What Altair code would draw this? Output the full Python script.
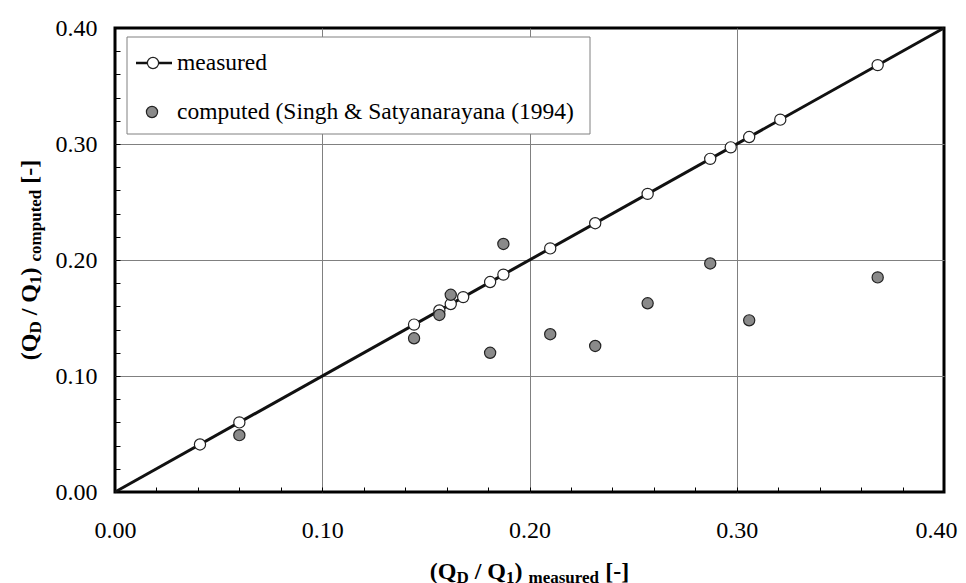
import altair as alt
import pandas as pd

# ---------------- data ----------------
measured_x = [0.041, 0.060, 0.1443, 0.1565, 0.162, 0.168, 0.181, 0.1874,
              0.210, 0.2317, 0.257, 0.2872, 0.2971, 0.306, 0.321, 0.368]
measured_y = [0.041, 0.060, 0.1443, 0.1565, 0.162, 0.168, 0.181, 0.1874,
              0.210, 0.2317, 0.257, 0.2872, 0.2971, 0.306, 0.321, 0.368]
computed_x = [0.060, 0.1443, 0.1565, 0.162, 0.181, 0.1874, 0.210, 0.2317,
              0.257, 0.2872, 0.306, 0.368]
computed_y = [0.049, 0.1325, 0.1526, 0.170, 0.120, 0.2138, 0.136, 0.1259,
              0.1627, 0.197, 0.148, 0.185]
diag_x = [0.0, 0.4]
diag_y = [0.0, 0.4]
major_ticks = [0.0, 0.1, 0.2, 0.3, 0.4]
minor_ticks = [0.0, 0.02, 0.04, 0.06, 0.08, 0.1, 0.12, 0.14, 0.16, 0.18, 0.2,
               0.22, 0.24, 0.26, 0.28, 0.3, 0.32, 0.34, 0.36, 0.38, 0.4]
legend_labels = ["measured", "computed (Singh & Satyanarayana (1994)"]
x_title_parts = ["(Q", "D", "/", "Q", "1", ")", "measured", "[-]"]
y_title_parts = ["(Q", "D", "/", "Q", "1", ")", "computed", "[-]"]

# ---------------- layout / style ----------------
W, H = 829, 464
FONT = "Liberation Serif, Times New Roman, Tinos, DejaVu Serif, serif"
MAIN, SUB = 24, 17
GRID = "#808080"
FILL_GRAY = "#8a8a8a"

BOLD_W = {"(": 333, ")": 333, "Q": 778, "D": 722, "/": 278, "1": 500, "[": 333,
          "-": 333, "]": 333, "m": 833, "e": 444, "a": 500, "s": 389, "u": 556,
          "r": 444, "d": 556, "c": 444, "o": 500, "p": 556, "t": 333}
# (is subscript, space before in px)
part_style = [(False, 0), (True, 0), (False, 6), (False, 6), (True, 0),
              (False, 0), (True, 6), (False, 6)]


def layout(parts):
    offs, cur = [], 0.0
    for txt, (sub, pre) in zip(parts, part_style):
        cur += pre
        offs.append(cur)
        size = SUB if sub else MAIN
        cur += sum(BOLD_W[c] for c in txt) / 1000 * size
    return offs, cur


xs = alt.Scale(domain=[0, 0.4], nice=False, zero=False)
ys = alt.Scale(domain=[0, 0.4], nice=False, zero=False)

grid_op = {"condition": {"test": "datum.value <= 0.001 || datum.value >= 0.399", "value": 0},
           "value": 1}
last_shift = {"condition": {"test": "datum.value >= 0.399", "value": -8}, "value": 0}

label_axis_x = alt.Axis(orient="bottom", values=major_ticks, format=".2f", labelFont=FONT,
                        labelFontSize=MAIN, labelColor="black", labelPadding=26,
                        labelOffset=last_shift,
                        ticks=False, tickSize=0, domain=False, grid=True, gridColor=GRID,
                        gridWidth=1, gridOpacity=grid_op, title=None, labelFlush=False)
label_axis_y = alt.Axis(orient="left", values=major_ticks, format=".2f", labelFont=FONT,
                        labelFontSize=MAIN, labelColor="black", labelPadding=18,
                        ticks=False, tickSize=0, domain=False, grid=True, gridColor=GRID,
                        gridWidth=1, gridOpacity=grid_op, title=None, labelFlush=False)
tick_axis_x = alt.Axis(orient="bottom", values=minor_ticks, labels=False, ticks=True,
                       tickSize=5, tickColor="black", tickWidth=1, offset=-5,
                       domain=False, grid=False, title=None)
tick_axis_y = alt.Axis(orient="left", values=minor_ticks, labels=False, ticks=True,
                       tickSize=5, tickColor="black", tickWidth=1, offset=-5,
                       domain=False, grid=False, title=None)

diag_df = pd.DataFrame({"x": diag_x, "y": diag_y})
meas_df = pd.DataFrame({"x": measured_x, "y": measured_y})
comp_df = pd.DataFrame({"x": computed_x, "y": computed_y})

diag = alt.Chart(diag_df).mark_line(color="#111111", strokeWidth=3).encode(
    x=alt.X("x:Q", scale=xs, axis=label_axis_x),
    y=alt.Y("y:Q", scale=ys, axis=label_axis_y),
)
meas = alt.Chart(meas_df).mark_point(shape="circle", filled=True, fill="white",
                                     stroke="#222222", strokeWidth=1.2, size=125,
                                     opacity=1).encode(
    x=alt.X("x:Q", scale=xs, axis=tick_axis_x),
    y=alt.Y("y:Q", scale=ys, axis=tick_axis_y),
)
comp = alt.Chart(comp_df).mark_point(shape="circle", filled=True, fill=FILL_GRAY,
                                     stroke="#222222", strokeWidth=1.2, size=125,
                                     opacity=1).encode(
    x=alt.X("x:Q", scale=xs, axis=None),
    y=alt.Y("y:Q", scale=ys, axis=None),
)

# ---------------- legend ----------------
one = pd.DataFrame({"k": [0]})
leg_box = alt.Chart(one).mark_rect(fill="white", stroke=GRID, strokeWidth=1).encode(
    x=alt.value(12), x2=alt.value(475), y=alt.value(9), y2=alt.value(106))
leg_line = alt.Chart(one).mark_rule(color="#111111", strokeWidth=2.4).encode(
    x=alt.value(21), x2=alt.value(57), y=alt.value(35))
leg_open = alt.Chart(one).mark_point(shape="circle", filled=True, fill="white",
                                     stroke="#222222", strokeWidth=1.2, size=125,
                                     opacity=1).encode(x=alt.value(38), y=alt.value(35))
leg_fill = alt.Chart(one).mark_point(shape="circle", filled=True, fill=FILL_GRAY,
                                     stroke="#222222", strokeWidth=1.2, size=125,
                                     opacity=1).encode(x=alt.value(37), y=alt.value(84))
leg_df = pd.DataFrame({"t": legend_labels, "yy": [35, 84]})
leg_text = alt.Chart(leg_df).mark_text(font=FONT, fontSize=23.5, align="left",
                                       baseline="middle", color="black").encode(
    x=alt.value(62), y=alt.Y("yy:Q", scale=None, axis=None), text="t:N")

# ---------------- axis titles (with subscripts) ----------------
title_layers = []
offs, total = layout(x_title_parts)
x0 = W / 2 - total / 2
for txt, (sub, _), o in zip(x_title_parts, part_style, offs):
    title_layers.append(
        alt.Chart(pd.DataFrame({"t": [txt]})).mark_text(
            font=FONT, fontWeight="bold", fontSize=SUB if sub else MAIN,
            align="left", baseline="alphabetic", color="black").encode(
            x=alt.value(x0 + o), y=alt.value(555 if sub else 551), text="t:N"))

offs, total = layout(y_title_parts)
y0 = H / 2 + total / 2
for txt, (sub, _), o in zip(y_title_parts, part_style, offs):
    title_layers.append(
        alt.Chart(pd.DataFrame({"t": [txt]})).mark_text(
            font=FONT, fontWeight="bold", fontSize=SUB if sub else MAIN,
            align="left", baseline="alphabetic", angle=270, color="black").encode(
            x=alt.value(-74 if sub else -78), y=alt.value(y0 - o), text="t:N"))

chart = alt.layer(diag, meas, comp, leg_box, leg_line, leg_open, leg_fill, leg_text,
                  *title_layers).resolve_axis(
    x="independent", y="independent"
).properties(
    width=W, height=H,
    padding={"left": 107, "top": 20, "right": 14, "bottom": 100},
    autosize=alt.AutoSizeParams(type="none"),
    background="white",
).configure_view(stroke="black", strokeWidth=3)

chart.save("out.html", embed_options={"renderer": "svg", "actions": False})
